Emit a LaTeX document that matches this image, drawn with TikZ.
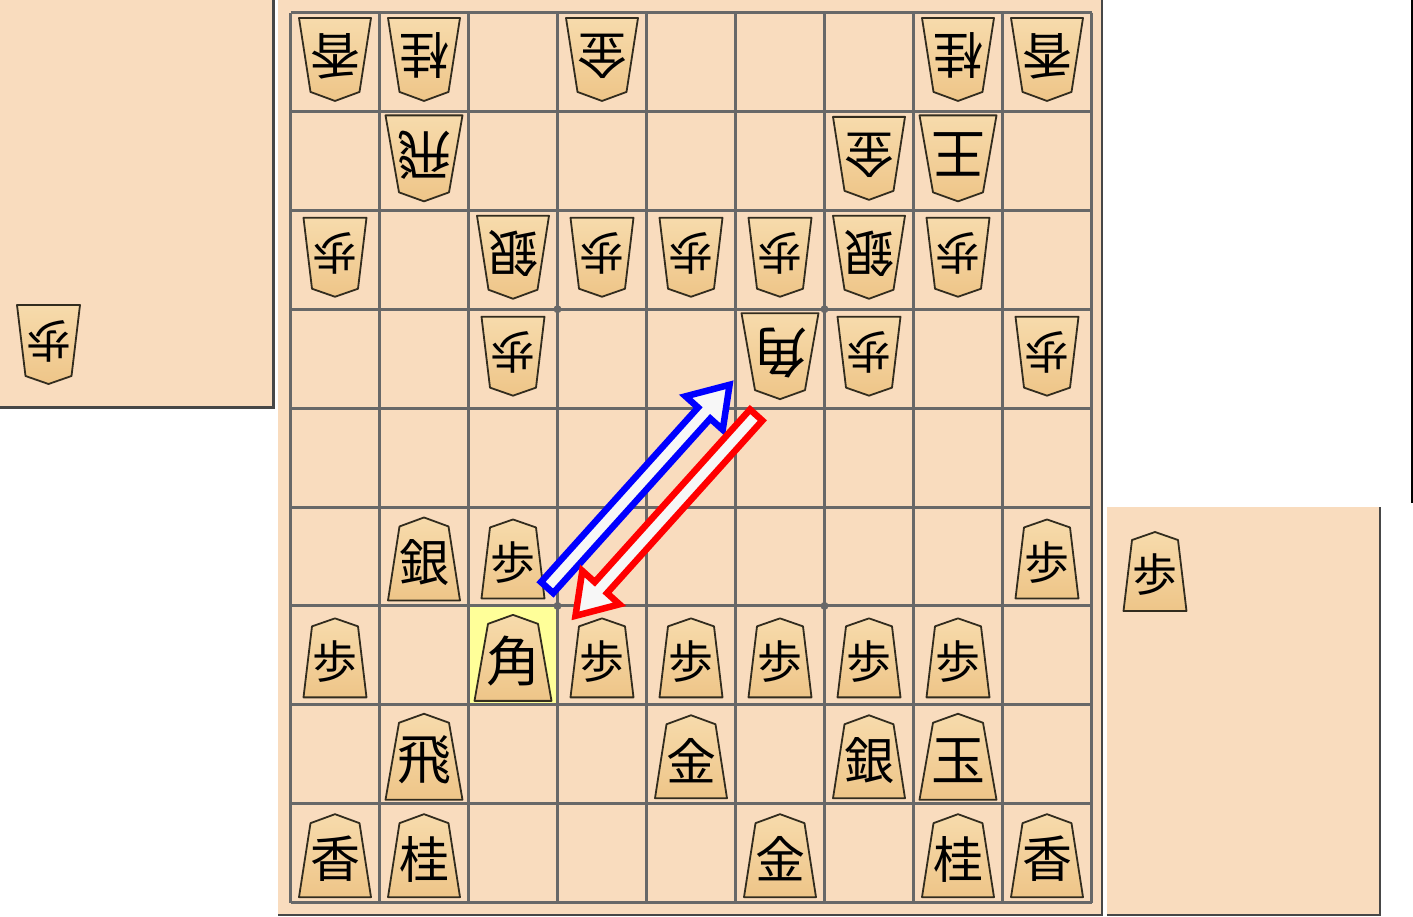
\documentclass[tikz,border=0pt]{standalone}
\usepackage{fontspec}
\usepackage{tikz}
\usetikzlibrary{calc}
\newfontfamily\komafont{Noto Sans CJK JP}
\definecolor{ban}{RGB}{249,220,190}
\definecolor{sen}{RGB}{104,104,104}
\definecolor{masu}{RGB}{255,255,153}
\definecolor{kiji}{RGB}{247,219,172}
\definecolor{kijidark}{RGB}{238,197,136}
\definecolor{fuchi}{RGB}{50,44,30}
\tikzset{
  komafu/.code={\def\kb{31.5}\def\ks{23}\def\kh{39.5}\def\kd{8}\def\kf{45}},
  komakin/.code={\def\kb{36}\def\ks{24.5}\def\kh{41.5}\def\kd{9}\def\kf{50}},
  komahi/.code={\def\kb{38.5}\def\ks{25}\def\kh{43}\def\kd{9}\def\kf{54}},
  komaface/.style={draw=fuchi, line width=1.8pt, line join=round, top color=kiji, bottom color=kijidark},
  movearrow/.style={line width=6.5pt, fill=white!97!black, line join=miter},
  kage/.style={draw=black!72, line width=2.5pt}
}
\newcommand\koma[5]{%
  \begin{scope}[shift={#2}, x=1pt, y=-1pt, rotate=#5, #4]
    \filldraw[komaface] (0,2.5-\kh) -- (\ks,2.5-\kh+\kd) -- (\kb,2.5+\kh) -- (-\kb,2.5+\kh) -- (-\ks,2.5-\kh+\kd) -- cycle;
    \coordinate (#1m) at (0,0);
    \node[rotate=#5, font=\komafont\fontsize{\kf}{\kf}\selectfont, inner sep=0pt] (#1) at (0,6) {#3};
  \end{scope}}
\newcommand\sashite[5]{%
  \pgfmathsetmacro\ptail{#3+3.25}
  \pgfmathsetmacro\pback{#4-44}
  \pgfmathsetmacro\ptip{#4-6}
  \filldraw[movearrow, draw=#5]
    ($(#1)!\ptail pt!(#2)!11.75pt!90:(#2)$) -- ($(#1)!\pback pt!(#2)!11.75pt!90:(#2)$) --
    ($(#1)!\pback pt!(#2)!-5pt!90:(#2)$) -- ($(#1)!\ptip pt!(#2)!20pt!90:(#2)$) --
    ($(#1)!\pback pt!(#2)!45pt!90:(#2)$) -- ($(#1)!\pback pt!(#2)!28.25pt!90:(#2)$) --
    ($(#1)!\ptail pt!(#2)!28.25pt!90:(#2)$) -- cycle;}
\begin{document}
\begin{tikzpicture}[x=1pt, y=-1pt]
                    \useasboundingbox (0,0) rectangle (1413,916);
                    \fill[ban] (0,0) rectangle (273,407);
                    \draw[kage] (273.5,0) -- (273.5,407.5) -- (0,407.5);
                    \fill[ban] (278,0) rectangle (1101,914);
                    \draw[kage] (1102,0) -- (1102,915) -- (278,915);
                    \fill[ban] (1107,507) rectangle (1379,914);
                    \draw[kage] (1380,507) -- (1380,915) -- (1107,915);
                    \draw[black, line width=1.5pt] (1412,0) -- (1412,503);
                    \begin{scope}[shift={(290.5,12.5)}, x=89pt, y=-98.9pt]
                        \fill[masu] (2,6) rectangle (3,7);
                        \foreach \i in {0,...,9} {
                            \draw[sen, line width=3pt] (\i,0) -- (\i,9);
                            \draw[sen, line width=3pt] (0,\i) -- (9,\i);
                        }
                        \foreach \i in {3,6} \foreach \j in {3,6} \fill[sen] (\i,\j) circle (4pt);
                        \foreach \c/\r/\k/\s in {0/8/香/komakin, 1/8/桂/komakin, 5/8/金/komakin, 7/8/桂/komakin, 8/8/香/komakin,
                            1/7/飛/komahi, 4/7/金/komakin, 6/7/銀/komakin, 7/7/玉/komahi,
                            0/6/歩/komafu, 2/6/角/komahi, 3/6/歩/komafu, 4/6/歩/komafu, 5/6/歩/komafu, 6/6/歩/komafu, 7/6/歩/komafu,
                            1/5/銀/komakin, 2/5/歩/komafu, 8/5/歩/komafu}
                            \koma{k\c\r}{(\c+0.5,\r+0.5)}{\k}{\s}{0};
                        \foreach \c/\r/\k/\s in {0/0/香/komakin, 1/0/桂/komakin, 3/0/金/komakin, 7/0/桂/komakin, 8/0/香/komakin,
                            1/1/飛/komahi, 6/1/金/komakin, 7/1/王/komahi,
                            0/2/歩/komafu, 2/2/銀/komakin, 3/2/歩/komafu, 4/2/歩/komafu, 5/2/歩/komafu, 6/2/銀/komakin, 7/2/歩/komafu,
                            2/3/歩/komafu, 5/3/角/komahi, 6/3/歩/komafu, 8/3/歩/komafu}
                            \koma{k\c\r}{(\c+0.5,\r+0.5)}{\k}{\s}{180};
                    \end{scope}
                    \koma{gotefu}{(48.5,347)}{歩}{komafu}{180}
                    \koma{sentefu}{(1155,569)}{歩}{komafu}{0}
                    \sashite{k26m}{k53m}{70}{352}{blue}
                    \sashite{k53m}{k26m}{54.6}{334}{red}
                \end{tikzpicture}
\end{document}
